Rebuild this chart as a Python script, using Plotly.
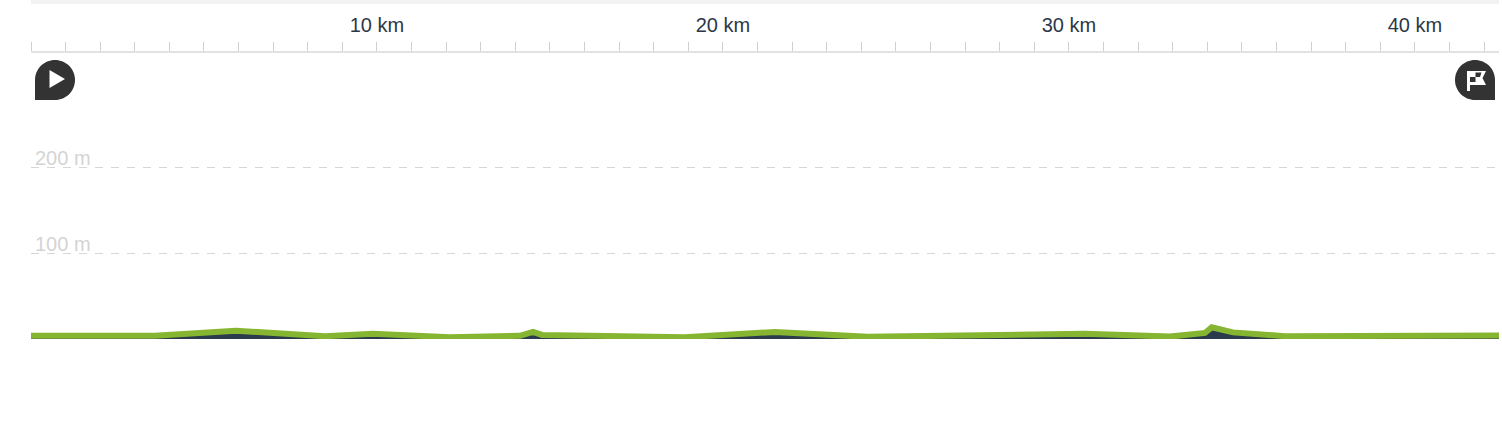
import plotly.graph_objects as go

distance_km = [0, 3.58, 5.92, 8.5, 9.88, 12.1, 14.13, 14.51, 14.77, 18.9, 21.5, 24.19, 30.46, 32.92, 33.93, 34.13, 34.74, 36.24, 42.43]
elevation_m = [3.8, 3.8, 9.7, 3.2, 6.2, 2.1, 3.7, 8.2, 4.7, 2.1, 8.2, 2.5, 6.2, 2.8, 7, 13.7, 7.7, 3.3, 4]

x_tick_vals = list(range(0, 43))
x_label_text = {10: "10 km", 20: "20 km", 30: "30 km", 40: "40 km"}
y_label_vals = [100, 200]
y_label_text = ["100 m", "200 m"]

W, H = 1502, 426
PLOT_L, PLOT_R, PLOT_T, PLOT_B = 31, 1499, 53.3, 339

fig = go.Figure()
fig.add_trace(go.Scatter(
    x=distance_km, y=elevation_m, mode="lines",
    line=dict(color="#86b631", width=6, shape="linear"),
    fill="tozeroy", fillcolor="#2c3a4e", hoverinfo="skip", showlegend=False,
))


def icon(path, color):
    return dict(type="path", xref="paper", yref="paper", xsizemode="pixel", ysizemode="pixel",
                xanchor=0, yanchor=1, path=path, fillcolor=color,
                line=dict(width=0), layer="above")


def badge(cx, square_x):
    # Round badge of radius 20 centred at (cx, 80) with one square bottom corner.
    k = 11.05
    s = -1 if square_x > cx else 1
    return (f"M{square_x},-100 L{square_x},-80 "
            f"C{square_x},-{80 - k} {cx - s * k},-60 {cx},-60 "
            f"C{cx + s * k},-60 {cx + s * 20},-{80 - k} {cx + s * 20},-80 "
            f"C{cx + s * 20},-{80 + k} {cx + s * k},-100 {cx},-100 Z")


shapes = [
    dict(type="rect", xref="paper", yref="paper", x0=PLOT_L / W, x1=PLOT_R / W, y0=1 - 4 / H, y1=1,
         fillcolor="#f2f2f2", line=dict(width=0), layer="below"),
    icon(badge(55, 35), "#333333"),
    icon("M49.5,-70 L65,-79 L49.5,-88 Z", "#ffffff"),
    icon(badge(1475, 1495), "#333333"),
    icon("M1467,-71 L1486,-71 L1482.5,-78 L1486,-85 L1470,-85 L1470,-91 L1467,-91 Z", "#ffffff"),
    icon("M1475.5,-72.5 L1481.5,-72.5 L1480,-77 L1475.5,-77 Z", "#333333"),
    icon("M1470,-77 L1475.5,-77 L1475.5,-82 L1470,-82 Z", "#333333"),
]

annotations = [
    dict(x=0, y=v, xref="x", yref="y", text=t, showarrow=False, xanchor="left", yanchor="bottom",
         xshift=3, yshift=-3, borderpad=0, font=dict(size=20, color="#d4d4d4"))
    for v, t in zip(y_label_vals, y_label_text)
]

fig.update_layout(
    width=W, height=H, paper_bgcolor="#ffffff", plot_bgcolor="#ffffff",
    margin=dict(l=0, r=0, t=0, b=0), shapes=shapes, annotations=annotations, showlegend=False,
    font=dict(family="Liberation Sans"),
    xaxis=dict(
        domain=[PLOT_L / W, PLOT_R / W], range=[0, 42.43], side="top",
        tickmode="array", tickvals=x_tick_vals,
        ticktext=[x_label_text.get(v, "") for v in x_tick_vals],
        tickfont=dict(size=20, color="#2d3748"), ticks="outside", ticklen=9, tickwidth=1,
        tickcolor="#cfcfcf", ticklabelstandoff=2,
        showline=True, linecolor="#e2e2e2", linewidth=2, showgrid=False, zeroline=False, fixedrange=True,
    ),
    yaxis=dict(
        domain=[(H - PLOT_B) / H, (H - PLOT_T) / H], range=[0, (PLOT_B - PLOT_T) / 0.86],
        tickmode="array", tickvals=y_label_vals, showticklabels=False,
        ticks="", showline=False, showgrid=True, gridcolor="#d6d6d6", griddash="8px,8px", gridwidth=1,
        zeroline=False, fixedrange=True,
    ),
)

fig.write_html("out.html", config=dict(displayModeBar=False),
               post_script="document.body.style.margin='0';document.body.style.overflow='hidden';")
